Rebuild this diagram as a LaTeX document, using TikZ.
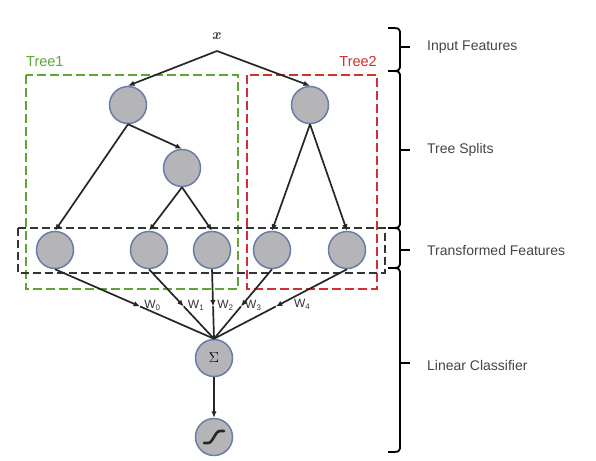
\documentclass[tikz,border=0pt]{standalone}
\usepackage{fontspec}
\newfontfamily\arial{Liberation Sans}
\usetikzlibrary{arrows.meta,calc}
\definecolor{nodefill}{HTML}{B5B5B7}
\definecolor{nodeedge}{HTML}{6A7DA6}
\definecolor{treegreen}{HTML}{5FA535}
\definecolor{treered}{HTML}{D0312D}
\definecolor{labgray}{HTML}{454545}
\tikzset{
  neuron/.style={circle,draw=nodeedge,fill=nodefill,line width=1.5pt,minimum size=37pt,inner sep=0pt},
  arr/.style={-{Latex[length=6.5pt,width=5.5pt]},line width=1.7pt,black!85},
  plain/.style={line width=1.7pt,black!85},
  gbox/.style={draw=treegreen,line width=2pt,dash pattern=on 9pt off 4pt},
  rbox/.style={draw=treered,line width=2pt,dash pattern=on 9pt off 4pt},
  kbox/.style={draw=black!80,line width=1.7pt,dash pattern=on 8pt off 4pt},
  brk/.style={line width=1.8pt,black},
  seclab/.style={anchor=west,font=\arial\fontsize{14}{16}\selectfont,text=labgray,inner sep=0pt},
  wlab/.style={anchor=west,font=\arial\fontsize{12}{13}\selectfont,text=black!80,inner sep=0pt},
}
\begin{document}
\begin{tikzpicture}[x=1pt,y=-1pt]
\useasboundingbox (0,0) rectangle (596,460);
\fill[white] (0,0) rectangle (596,460);

% dashed boxes
\draw[gbox] (26,75) rectangle (238,289);
\draw[rbox] (247,75) rectangle (377,289);
\draw[kbox] (18,228) rectangle (385,273);
\node[font=\arial\fontsize{14.5}{16}\selectfont,text=treegreen,anchor=west,inner sep=0pt] (t1) at (26,62) {Tree1};
\node[font=\arial\fontsize{14.5}{16}\selectfont,text=treered,anchor=east,inner sep=0pt] (t2) at (377,62) {Tree2};

% input
\node[font=\fontsize{15}{17}\selectfont\bfseries\itshape,text=black!80,inner sep=0pt] (x) at (216,36) {x};
\coordinate (xp) at (217,51);

% tree nodes
\node[neuron] (r1) at (128,105) {};
\node[neuron] (n2) at (182,168) {};
\node[neuron] (r2) at (310,105) {};
\node[neuron] (l0) at (55,250) {};
\node[neuron] (l1) at (149,250) {};
\node[neuron] (l2) at (212,250) {};
\node[neuron] (l3) at (272,250) {};
\node[neuron] (l4) at (347,250) {};
\node[neuron] (sig) at (214,358) {\fontsize{14}{14}\selectfont$\Sigma$};
\node[neuron] (sg) at (214,437) {};
\draw[line width=2.6pt,black!85,line cap=round] ([shift={(-10,6)}]sg.center) -- ([shift={(-6,6)}]sg.center) .. controls ([shift={(-1,6)}]sg.center) and ([shift={(1,-6)}]sg.center) .. ([shift={(6,-6)}]sg.center) -- ([shift={(10,-6)}]sg.center);

% tree edges
\draw[arr] (xp) -- (r1.north);
\draw[arr] (xp) -- (r2.north);
\draw[arr] (r1.south) -- (l0.north);
\draw[arr] (r1.south) -- (n2.north);
\draw[arr] (n2.south) -- (l1.north);
\draw[arr] (n2.south) -- (l2.north);
\draw[arr] (r2.south) -- (l3.north);
\draw[arr] (r2.south) -- (l4.north);

% weighted edges
\foreach \i in {0,...,4}{
  \coordinate (m\i) at ($(l\i.south)!0.535!(sig.north)$);
  \draw[arr] (l\i.south) -- (m\i);
  \draw[plain] (m\i) -- (sig.north);
}
\node[wlab] (w0) at ($(m0)+(4,-1)$) {W\textsubscript{0}};
\node[wlab] (w1) at ($(m1)+(4,-1)$) {W\textsubscript{1}};
\node[wlab] (w2) at ($(m2)+(4,-1)$) {W\textsubscript{2}};
\node[wlab] (w3) at ($(m3)+(4,-1)$) {W\textsubscript{3}};
\node[wlab] (w4) at ($(m4)+(18,-2)$) {W\textsubscript{4}};
\draw[arr] (sig) -- (sg);

% right brackets
\foreach \a/\b in {28/71, 71/228, 228/268, 268/452}{
  \draw[brk] (388,\a) .. controls (400,\a) and (400,\a) .. (400,\a+7) -- (400,\b-7) .. controls (400,\b) and (400,\b) .. (388,\b);
}
\draw[brk] (400,47) -- (410,47);
\draw[brk] (400,150) -- (410,150);
\draw[brk] (400,250) -- (410,250);
\draw[brk] (400,363) -- (410,363);
\node[seclab] (s1) at (427,47) {Input Features};
\node[seclab] (s2) at (427,150) {Tree Splits};
\node[seclab] (s3) at (427,250) {Transformed Features};
\node[seclab] (s4) at (427,365) {Linear Classifier};
\end{tikzpicture}
\end{document}
